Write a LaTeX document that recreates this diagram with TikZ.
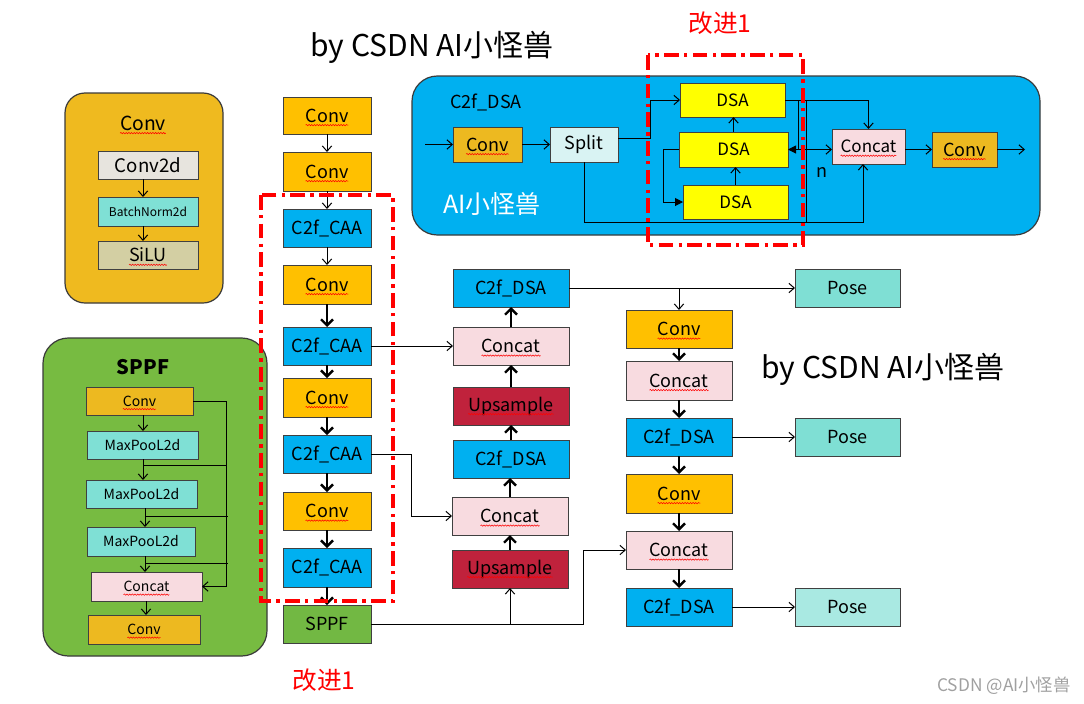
\documentclass[tikz,border=0pt]{standalone}
\usepackage{fontspec}
\setmainfont{Noto Sans CJK SC}
\usetikzlibrary{arrows.meta,calc,decorations.pathmorphing}
\definecolor{bordc}{HTML}{404040}
\definecolor{blkbord}{HTML}{3A3A3A}
\definecolor{convY}{HTML}{FFC000}
\definecolor{convG}{HTML}{EDB920}
\definecolor{blkY}{HTML}{EFBA1F}
\definecolor{c2fc}{HTML}{00B0F0}
\definecolor{concatc}{HTML}{F8DBE0}
\definecolor{upsc}{HTML}{C0223C}
\definecolor{posec}{HTML}{7FDFD4}
\definecolor{posel}{HTML}{A9E9E2}
\definecolor{sppfc}{HTML}{72B843}
\definecolor{blkG}{HTML}{77BB41}
\definecolor{tealc}{HTML}{7FE0D5}
\definecolor{conv2dc}{HTML}{E7E4DE}
\definecolor{siluc}{HTML}{D3CFA3}
\definecolor{splitc}{HTML}{D9F3F3}
\definecolor{dsac}{HTML}{FFFF00}
\definecolor{wmc}{HTML}{A0A0A0}
\newcommand\bx[7]{\node[bx,#6,minimum width={(#4-#2)*0.75pt},minimum height={(#5-#3)*0.75pt}] (#1) at ({(#2+#4)/2},{(#3+#5)/2}) {#7};}
\newcommand\squig[1]{\draw[squigl] ($(#1.text)+(0,3)$) -- ($(#1.text)!2!(#1.text -| #1.center)+(0,3)$);}
\tikzset{
  bx/.style={draw=bordc,line width=0.75pt,inner sep=0pt,outer sep=0pt,font=\fontsize{13.5}{16}\selectfont},
  blkstyle/.style={draw=blkbord,line width=0.9pt,inner sep=0pt,outer sep=0pt},
  ta/.style={line width=0.75pt,-{Straight Barb[length=4pt,width=7pt]}},
  tk/.style={line width=1.8pt,-{Straight Barb[length=4.5pt,width=9pt]}},
  tf/.style={line width=0.75pt,-{Triangle[length=6pt,width=6pt]}},
  ln/.style={line width=0.75pt},
  rdash/.style={draw=red,line width=2.6pt,dash pattern=on 11pt off 4pt on 2.5pt off 4pt},
  squigl/.style={draw=red,line width=0.4pt,decorate,decoration={snake,amplitude=0.5pt,segment length=2pt}},
  fA/.style={font=\fontsize{13.5}{16}\selectfont},
  fS/.style={font=\fontsize{10.5}{12}\selectfont},
  fT/.style={font=\fontsize{12.75}{15}\selectfont},
}
\begin{document}
\begin{tikzpicture}[x=0.75pt,y=-0.75pt]
\useasboundingbox (0,0) rectangle (1084,703);

% ---------------- titles ----------------
\node[font=\fontsize{22.5}{26}\selectfont] (title1) at (432,47) {by CSDN AI小怪兽};
\node[font=\fontsize{22.5}{26}\selectfont] (title2) at (883,369) {by CSDN AI小怪兽};
\node[font=\fontsize{18.5}{22}\selectfont,text=red] (imp1) at (720,23) {改进1};
\node[font=\fontsize{18.5}{22}\selectfont,text=red] (imp2) at (324,680) {改进1};
\node[font=\fontsize{13}{16}\selectfont,text=wmc] (wm) at (1004,686) {CSDN @AI小怪兽};

% ---------------- left Conv block ----------------
\bx{lcb}{65}{93}{223}{303}{blkstyle,fill=blkY,rounded corners=15pt}{}
\node[font=\fontsize{14.5}{17}\selectfont] (lct) at (143,123) {Conv};
\bx{lc1}{98}{151}{198}{179}{fill=conv2dc,font=\fontsize{14}{16}\selectfont}{Conv2d}
\bx{lc2}{98}{197}{198}{226}{fill=tealc,font=\fontsize{9}{11}\selectfont}{BatchNorm2d}
\bx{lc3}{98}{241}{198}{269}{fill=siluc,font=\fontsize{13.5}{16}\selectfont}{SiLU}
\coordinate (lax) at (143,0);
\draw[ta] (lc1.south -| lax) -- (lc2.north -| lax);
\draw[ta] (lc2.south -| lax) -- (lc3.north -| lax);
\squig{lct}
\squig{lc3}

% ---------------- SPPF block ----------------
\bx{sb}{43}{338}{267}{656}{blkstyle,fill=blkG,rounded corners=19pt}{}
\node[font=\fontsize{15}{18}\selectfont\bfseries] (sppft) at (143,367) {SPPF};
\bx{s1}{86}{387}{193}{415}{fill=convG,fS}{Conv}
\bx{s2}{87}{431}{198}{459}{fill=tealc,fS}{MaxPooL2d}
\bx{s3}{86}{480}{197}{508}{fill=tealc,fS}{MaxPooL2d}
\bx{s4}{87}{527}{195}{556}{fill=tealc,fS}{MaxPooL2d}
\bx{s5}{91}{572}{202}{601}{fill=concatc,fS}{Concat}
\bx{s6}{88}{615}{200}{644}{fill=convG,fS}{Conv}
\coordinate (sax) at (143,0);
\coordinate (sbx) at (145,0);
\coordinate (scx) at (146,0);
\coordinate (h1) at (226,465);
\coordinate (h2) at (228,516);
\coordinate (h3) at (228,563);
\draw[ta] (s1.south -| sax) -- (s2.north -| sax);
\draw[ta] (s2.south -| sax) -- (s3.north -| sax);
\draw[ta] (s3.south -| sbx) -- (s4.north -| sbx);
\draw[ta] (s4.south -| sbx) -- (s5.north -| sbx);
\draw[ta] (s5.south -| scx) -- (s6.north -| scx);
\draw[ta] (s1.east) -- (h1 |- s1.east) |- (s5.east);
\draw[ln] (sax |- h1) -- (h1);
\draw[ln] (sbx |- h2) -- (h2);
\draw[ln] (sbx |- h3) -- (h3);
\squig{s1}
\squig{s5}
\squig{s6}

% ---------------- backbone ----------------
\bx{b1}{283}{97}{371}{134}{fill=convY}{Conv}
\bx{b2}{283}{152}{371}{191}{fill=convY}{Conv}
\bx{b3}{283}{209}{371}{247}{fill=c2fc}{C2f\_CAA}
\bx{b4}{283}{265}{371}{304}{fill=convY}{Conv}
\bx{b5}{283}{327}{371}{365}{fill=c2fc}{C2f\_CAA}
\bx{b6}{283}{378}{371}{417}{fill=convY}{Conv}
\bx{b7}{283}{435}{371}{473}{fill=c2fc}{C2f\_CAA}
\bx{b8}{283}{492}{371}{530}{fill=convY}{Conv}
\bx{b9}{283}{548}{371}{587}{fill=c2fc}{C2f\_CAA}
\bx{b10}{283}{605}{371}{643}{fill=sppfc}{SPPF}
\draw[ta] (b1) -- (b2);
\draw[ta] (b2) -- (b3);
\draw[ta] (b3) -- (b4);
\draw[tk] (b4) -- (b5);
\draw[tk] (b5) -- (b6);
\draw[tk] (b6) -- (b7);
\draw[tk] (b7) -- (b8);
\draw[tk] (b8) -- (b9);
\draw[tk] (b9) -- (b10);
\foreach \n in {b1,b2,b4,b6,b8} {\squig{\n}}

% ---------------- middle column ----------------
\bx{m1}{453}{269}{569}{307}{fill=c2fc}{C2f\_DSA}
\bx{m2}{453}{327}{569}{365}{fill=concatc}{Concat}
\bx{m3}{453}{387}{569}{425}{fill=upsc}{Upsample}
\bx{m4}{453}{440}{569}{478}{fill=c2fc}{C2f\_DSA}
\bx{m5}{452}{497}{568}{535}{fill=concatc}{Concat}
\bx{m6}{452}{550}{568}{588}{fill=upsc}{Upsample}
\draw[tk] (m6.north) -- (m6.north |- m5.south);
\draw[tk] (m5.north) -- (m5.north |- m4.south);
\draw[tk] (m4.north) -- (m4.north |- m3.south);
\draw[tk] (m3) -- (m2);
\draw[tk] (m2) -- (m1);
\foreach \n in {m2,m3,m5,m6} {\squig{\n}}

% ---------------- right column ----------------
\bx{r1}{626}{310}{732}{348}{fill=convY}{Conv}
\bx{r2}{626}{361}{732}{400}{fill=concatc}{Concat}
\bx{r3}{626}{418}{732}{456}{fill=c2fc}{C2f\_DSA}
\bx{r4}{626}{474}{732}{513}{fill=convY}{Conv}
\bx{r5}{626}{531}{732}{569}{fill=concatc}{Concat}
\bx{r6}{626}{588}{732}{626}{fill=c2fc}{C2f\_DSA}
\bx{p1}{795}{269}{900}{307}{fill=posec}{Pose}
\bx{p2}{795}{418}{900}{456}{fill=posec}{Pose}
\bx{p3}{795}{588}{900}{626}{fill=posel}{Pose}
\draw[tk] (r1) -- (r2);
\draw[tk] (r2) -- (r3);
\draw[tk] (r3) -- (r4);
\draw[tk] (r4) -- (r5);
\draw[tk] (r5) -- (r6);
\draw[ta] (r3) -- (p2);
\draw[ta] (r6) -- (p3);
\foreach \n in {r1,r2,r4,r5} {\squig{\n}}

% ---------------- cross connectors ----------------
\coordinate (j1) at (411,454);
\coordinate (j2) at (583,624);
\draw[ta] (b5) -- (m2);
\draw[ta] (b7.east) -- (j1) |- (m5.west);
\draw[ta] (b10.east) -- (j2) |- (r5.west);
\draw[ta] (m6.south |- j2) -- (m6.south);
\draw[ta] (m1) -- (p1);
\draw[ta] (r1.north |- m1.east) -- (r1.north);

% ---------------- C2f_DSA block ----------------
\bx{tblk}{412}{76}{1040}{235}{blkstyle,fill=c2fc,rounded corners=19pt}{}
\node[fA] (tlab) at (486,102) {C2f\_DSA};
\bx{tc}{453}{127}{522}{162}{fill=convG}{Conv}
\bx{ts}{550}{127}{618}{162}{fill=splitc}{Split}
\bx{d1}{680}{83}{785}{117}{fill=dsac,fT}{DSA}
\bx{d2}{679}{132}{788}{167}{fill=dsac,fT}{DSA}
\bx{d3}{683}{185}{788}{219}{fill=dsac,fT}{DSA}
\bx{tcc}{832}{129}{905}{164}{fill=concatc,fT}{Concat}
\bx{tc2}{932}{132}{997}{167}{fill=convG}{Conv}
\node[fA] (nlab) at (822,172) {n};
\node[font=\fontsize{18.75}{22}\selectfont,text=white] (ailab) at (492,204) {AI小怪兽};
\coordinate (tin) at (425,144.5);
\coordinate (tout) at (1025,149.5);
\coordinate (ja) at (650,138);
\coordinate (jb) at (798,100);
\coordinate (jc) at (806,100);
\coordinate (jd) at (863,222);
\draw[ta] (tin) -- (tc.west);
\draw[ta] (tc) -- (ts);
\draw[ta] (ts.east |- ja) -- (ja) |- (d1.west);
\draw[ta] (d3.north) -- (d3.north |- d2.south);
\draw[ta] (d2.north) -- (d2.north |- d1.south);
\draw[tf] (d2.west) -- ++(-16,0) |- (d3.west);
\draw[ta] (d1.east) -| (tcc.north);
\draw[ln] (jb) -- (jb |- d2.east);
\draw[ln] (jc) -- (jc |- jd);
\draw[line width=0.75pt,{Triangle[length=6pt,width=6pt]}-{Straight Barb[length=4pt,width=7pt]}] (d2.east) -- (d2.east -| tcc.west);
\draw[ta] (ts.south) |- (jd) -- (jd |- tcc.south);
\draw[ta] (tcc.east |- tc2.west) -- (tc2.west);
\draw[ta] (tc2.east) -- (tout);
\squig{tc}
\squig{tcc}
\squig{tc2}

% ---------------- red dashed frames ----------------
\coordinate (rd1a) at (261,195);
\coordinate (rd1b) at (393,601);
\coordinate (rd2a) at (648,55);
\coordinate (rd2b) at (803,245);
\draw[rdash] (rd1a) rectangle (rd1b);
\draw[rdash] (rd2a) rectangle (rd2b);
\end{tikzpicture}
\end{document}
